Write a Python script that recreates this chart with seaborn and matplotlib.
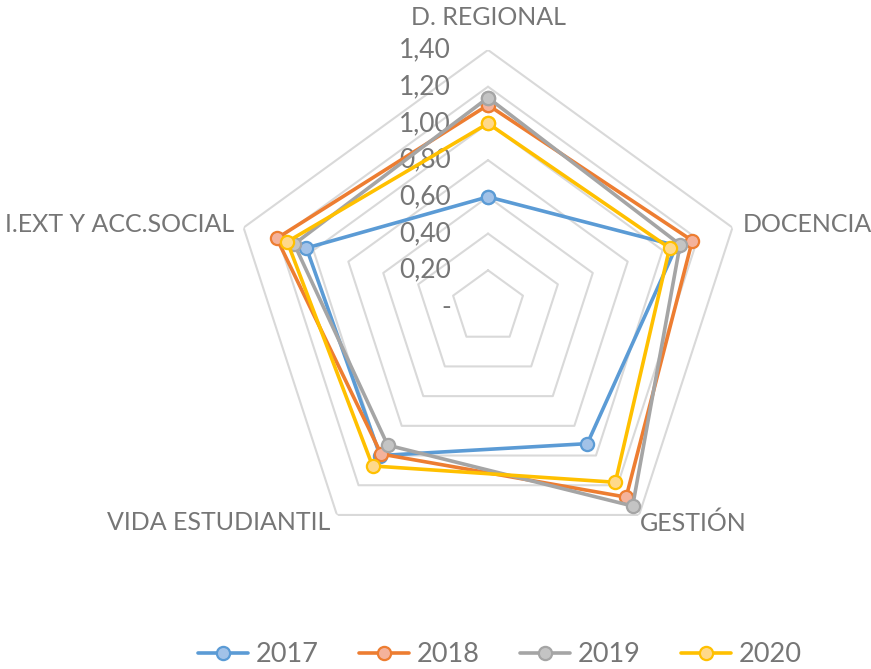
import numpy as np
import pandas as pd
import seaborn as sns
import matplotlib.pyplot as plt

sns.set_style('white')
plt.rcParams['font.family'] = ['Lato', 'DejaVu Sans']

# datos del radar
categorias = ['D. REGIONAL', 'DOCENCIA', 'GESTIÓN', 'VIDA ESTUDIANTIL', 'I.EXT Y ACC.SOCIAL']
anios = ['2017', '2018', '2019', '2020']
v2017 = [0.60, 1.08, 0.92, 1.00, 1.04]
v2018 = [1.10, 1.17, 1.28, 0.99, 1.21]
v2019 = [1.14, 1.10, 1.34, 0.93, 1.11]
v2020 = [1.00, 1.04, 1.18, 1.07, 1.15]
escala = [0.0, 0.2, 0.4, 0.6, 0.8, 1.0, 1.2, 1.4]
escala_txt = ['-', '0,20', '0,40', '0,60', '0,80', '1,00', '1,20', '1,40']

colores = ['#5B9BD5', '#ED7D31', '#A5A5A5', '#FFC000']
rellenos = ['#A2C2E8', '#F4B29B', '#C4C4C4', '#FFD98A']
gris = '#767676'

n = len(categorias)
ang = [2 * np.pi * i / n for i in range(n)]
ang_c = ang + [2 * np.pi]

rows = []
for a, vals in zip(anios, [v2017, v2018, v2019, v2020]):
    for t, v in zip(ang_c, vals + vals[:1]):
        rows.append({'anio': a, 'ang': t, 'valor': v})
df = pd.DataFrame(rows)

fig = plt.figure(figsize=(8.71, 6.69), dpi=100)
ax = fig.add_axes([0.2652, 0.1569, 0.5902, 0.7684], projection='polar')
ax.set_theta_zero_location('N')
ax.set_theta_direction(-1)
ax.set_ylim(0, 1.4)
ax.grid(False)
ax.set_xticks([])
ax.set_yticks([])
ax.spines['polar'].set_visible(False)

# rejilla pentagonal
for r in escala[1:]:
    ax.plot(ang_c, [r] * (n + 1), color='#D9D9D9', lw=1.5, zorder=0)

for i, a in enumerate(anios):
    sns.lineplot(data=df[df['anio'] == a], x='ang', y='valor', sort=False, ax=ax,
                 color=colores[i], lw=2.6, marker='o', markersize=9.5,
                 markerfacecolor=rellenos[i], markeredgecolor=colores[i],
                 markeredgewidth=1.6, label=a, zorder=3 + i)
ax.set_xlabel('')
ax.set_ylabel('')

for r, s in zip(escala, escala_txt):
    ax.annotate(s, xy=(0, r), xytext=(-37, 0), textcoords='offset pixels',
                ha='right', va='center', fontsize=19, color=gris)

# etiquetas de categorias
offs = [((0, 32), 'center', 'center'), ((10, 3), 'left', 'center'),
        ((1, -8), 'left', 'center'), ((-7, -8), 'right', 'center'),
        ((-9, 3), 'right', 'center')]
for t, c, (o, ha, va) in zip(ang, categorias, offs):
    ax.annotate(c, xy=(t, 1.4), xytext=o, textcoords='offset pixels',
                ha=ha, va=va, fontsize=18, color=gris)

h, l = ax.get_legend_handles_labels()
ax.get_legend().remove()
fig.legend(h, l, loc='center', bbox_to_anchor=(0.574, 0.021), ncol=4,
           frameon=False, fontsize=19.5, labelcolor=gris, handlelength=1.85,
           handletextpad=0.3, columnspacing=1.47)

fig.savefig('out.png', dpi=100)
